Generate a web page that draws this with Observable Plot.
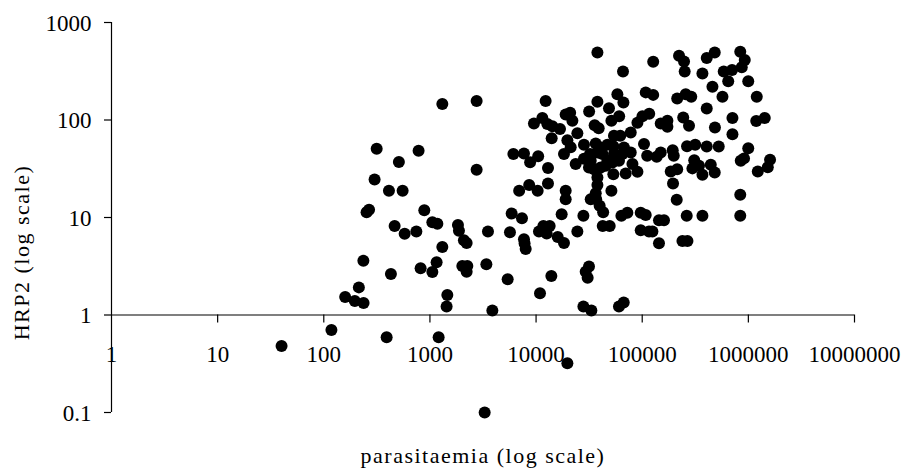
<!DOCTYPE html>
<html>
<head>
<meta charset="utf-8">
<script src="https://cdn.jsdelivr.net/npm/d3@7"></script>
<script src="https://cdn.jsdelivr.net/npm/@observablehq/plot@0.6"></script>
<style>
  html, body { margin: 0; padding: 0; background: #fff; }
  #chart svg { display: block; }
</style>
</head>
<body>
<div id="chart"></div>
<script>
// parasitaemia (x) and HRP2 (y)
const parasitaemia = [
  40, 118, 159, 196, 237, 214, 236, 253, 267, 301, 315, 391, 411, 429, 465, 510, 553, 578, 745, 782,
  817, 885, 1054, 1175, 1054, 1156, 1208, 1309, 1309, 1459, 1436, 1837, 1877, 2090, 2218, 2020, 2250, 2218, 2754, 2754,
  3279, 3522, 3402, 3873, 5400, 5675, 5890, 7365, 6110, 7690, 8790, 10470, 6930, 8610, 10350, 7690, 7800, 7980, 9550, 11460,
  12770, 14250, 16800, 12310, 12950, 12950, 14030, 10650, 11720, 13430, 12590, 10890, 13930, 15990, 18320, 17420, 19720, 19010, 20950, 21980,
  19720, 21190, 24490, 18320, 28270, 19010, 19010, 23610, 28270, 32720, 31520, 27920, 24490, 31520, 29330, 30620, 27920, 33190, 31620, 37840,
  37840, 35650, 38900, 36480, 40640, 32210, 37840, 42170, 35160, 40640, 45290, 37840, 37840, 36480, 32720, 36840, 39720, 42870, 42460, 49400,
  48640, 51260, 60670, 58350, 66530, 65920, 46990, 54200, 62090, 53460, 54200, 67330, 65030, 77980, 52360, 60400, 46990, 53460, 51260, 60400,
  66940, 63680, 72450, 69870, 77980, 80880, 90140, 90140, 100500, 116400, 104000, 111400, 96830, 107900, 96830, 115900, 107900, 126900, 126900, 149400,
  172700, 172700, 149400, 137000, 193800, 198200, 185700, 213600, 195100, 211400, 143900, 160400, 124800, 143900, 239300, 266700, 262600, 369200, 222300, 247700,
  251300, 369200, 405400, 482200, 838900, 924700, 866700, 586100, 701800, 646100, 997700, 458800, 570200, 1200000, 213600, 257000, 289700, 405400, 708200, 708200,
  1186000, 1427000, 484400, 243400, 276000, 264400, 315800, 405400, 526000, 997700, 910500, 847800, 1601000, 1524000, 1227000, 309100, 342800, 369200, 442500, 482200,
  297200, 838900, 838900
];
const hrp2 = [
  0.48, 0.70, 1.53, 1.39, 1.33, 1.92, 3.61, 11.3, 12.0, 24.5, 50.6, 0.59, 18.8, 2.64, 8.2, 37.0, 18.8, 6.8, 7.2, 48.3,
  3.02, 11.9, 8.95, 8.65, 2.76, 3.48, 0.59, 146, 4.99, 1.60, 1.22, 8.4, 7.3, 5.85, 5.48, 3.18, 3.18, 2.78, 157, 30.8,
  0.10, 7.2, 3.32, 1.11, 2.33, 7.06, 11.0, 9.84, 44.7, 45.3, 36.8, 42.4, 18.8, 21.6, 18.8, 5.98, 5.40, 4.76, 92, 105,
  90.8, 86.1, 80.7, 157, 32.1, 22.3, 64.9, 7.2, 8.2, 8.2, 6.87, 1.67, 2.51, 6.32, 5.48, 10.8, 0.32, 114, 119, 98,
  61.9, 52.5, 73.0, 44.7, 55.6, 18.8, 15.4, 35.3, 40.0, 38.1, 32.5, 10.4, 7.2, 3.15, 2.78, 2.41, 1.22, 1.11, 122, 493,
  154, 88.3, 82.2, 57.4, 52.2, 44.7, 46.4, 44.7, 31.3, 32.5, 33.9, 25.7, 21.6, 17.7, 15.4, 15.4, 13.2, 11.3, 8.2, 8.2,
  132, 98, 109, 184, 151, 315, 55.6, 68.9, 68.9, 53.7, 44.7, 52.2, 44.7, 46.4, 36.6, 38.1, 38.1, 27.8, 18.8, 1.22,
  1.34, 10.4, 11.2, 28.2, 74.4, 35.3, 29.4, 93.6, 109, 116, 56.6, 42.9, 11.2, 10.6, 7.41, 7.2, 192, 181, 396, 92,
  98, 85.1, 46.4, 41.9, 48.9, 42.9, 29.6, 31.3, 22.3, 15.2, 9.38, 9.38, 7.2, 5.45, 5.75, 5.75, 10.4, 10.4, 456, 399,
  315, 300, 432, 493, 501, 412, 348, 315, 325, 250, 250, 219, 173, 173, 166, 184, 173, 131, 105, 71.6,
  97.5, 105, 83.8, 106, 87.2, 53.7, 55.6, 53.5, 53.5, 51.4, 40.4, 38.1, 39.2, 32.7, 29.6, 38.7, 33.9, 27.4, 34.7, 29.0,
  31.9, 17.1, 10.4
];

const xTicks = [1, 10, 100, 1000, 10000, 100000, 1000000, 10000000];
const xTickLabels = ["1", "10", "100", "1000", "10000", "100000", "1000000", "10000000"];
const yTicks = [0.1, 1, 10, 100, 1000];
const yTickLabels = ["0.1", "1", "10", "100", "1000"];
const xTitle = "parasitaemia (log scale)";
const yTitle = "HRP2 (log scale)";

const points = parasitaemia.map((p, i) => ({p, h: hrp2[i]}));
const font = "'Liberation Serif', 'Times New Roman', serif";

const chart = Plot.plot({
  width: 904,
  height: 471,
  marginLeft: 111,
  marginRight: 50,
  marginTop: 22,
  marginBottom: 59,
  style: {background: "#fff", fontFamily: font, color: "#000"},
  x: {type: "log", domain: [1, 1e7], axis: null},
  y: {type: "log", domain: [0.1, 1000], axis: null},
  marks: [
    // axis lines: y axis at x = 1, x axis crossing at y = 1
    Plot.ruleX([1], {stroke: "#000", strokeWidth: 1.2}),
    Plot.ruleY([1], {stroke: "#000", strokeWidth: 1.2}),
    // x tick marks (downward)
    Plot.ruleX(xTicks.slice(1), {x: d => d, y1: 1, y2: 1, insetBottom: -8, stroke: "#000", strokeWidth: 1.2}),
    // y tick marks (leftward)
    Plot.ruleY(yTicks, {y: d => d, x1: 1, x2: 1, insetLeft: -7, stroke: "#000", strokeWidth: 1.2}),
    // tick labels
    Plot.text(xTicks, {x: d => d, y: 1, text: (d, i) => xTickLabels[i], dy: 40, fontSize: 23, fill: "#000", textAnchor: "middle", lineAnchor: "middle"}),
    Plot.text(yTicks, {x: 1, y: d => d, text: (d, i) => yTickLabels[i], dx: -20, dy: 1, fontSize: 23, fill: "#000", textAnchor: "end", lineAnchor: "middle"}),
    // axis titles
    Plot.text([xTitle], {frameAnchor: "bottom", text: d => d, dy: 43, fontSize: 22, fill: "#000", textAnchor: "middle", lineAnchor: "middle"}),
    Plot.text([yTitle], {frameAnchor: "left", text: d => d, rotate: -90, dx: -90, dy: 35, fontSize: 22, fill: "#000", textAnchor: "middle", lineAnchor: "middle"}),
    // points
    Plot.dot(points, {x: "p", y: "h", r: 6, fill: "#000", stroke: "none"})
  ]
});
// widen the axis titles' letter spacing as in the reference
d3.select(chart).selectAll("text").each(function () {
  const t = this.textContent;
  if (t === xTitle || t === yTitle) this.style.letterSpacing = "1.5px";
});
document.getElementById("chart").append(chart);
</script>
</body>
</html>
